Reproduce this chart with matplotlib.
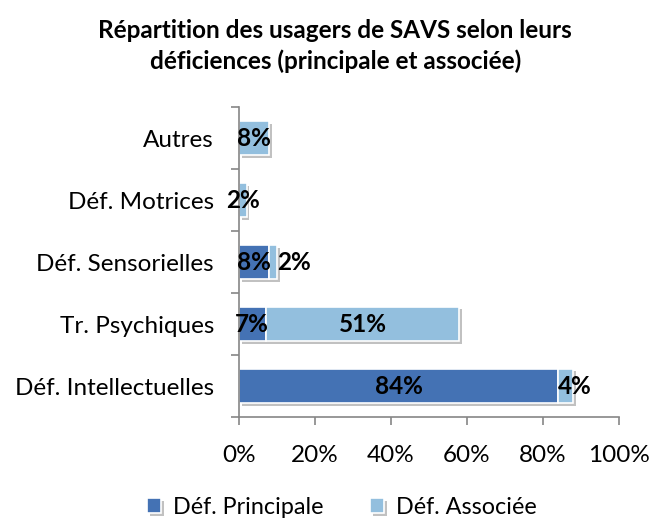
import matplotlib
matplotlib.use("Agg")
import matplotlib.pyplot as plt
import matplotlib.patheffects as pe
import numpy as np

categories = ["Déf. Intellectuelles", "Tr. Psychiques", "Déf. Sensorielles", "Déf. Motrices", "Autres"]
principale = [84, 7, 8, 0, 0]
associee = [4, 51, 2, 2, 8]
series_names = ["Déf. Principale", "Déf. Associée"]
xticks = [0, 20, 40, 60, 80, 100]

plt.rcParams['font.family'] = ['Lato', 'DejaVu Sans']

c_dark = "#4472B4"
c_light = "#93BFDE"
axis_col = "#868686"
fs = 17.5

fig = plt.figure(figsize=(6.51, 5.2), dpi=100)
ax = fig.add_axes([0.367, 0.198, 0.584, 0.596])

y = np.arange(len(categories))
h = 0.56
shadow = [pe.SimplePatchShadow(offset=(2, -2), shadow_rgbFace="#999999", alpha=0.6), pe.Normal()]
b1 = ax.barh(y, principale, height=h, color=c_dark, edgecolor="white", linewidth=1.2,
             label=series_names[0], path_effects=shadow, zorder=2)
b2 = ax.barh(y, associee, left=principale, height=h, color=c_light, edgecolor="white", linewidth=1.2,
             label=series_names[1], path_effects=shadow, zorder=2)

for i in range(len(categories)):
    p, a = principale[i], associee[i]
    if p > 0:
        ax.text(p / 2, y[i], f"{p}%", ha="center", va="center",
                fontsize=fs, fontweight="bold", zorder=5)
    if a > 0:
        if p > 0 and a < 5:
            # small segment after a dark one: label pushed to the right
            x0 = p + a if p < 20 else p
            ax.text(x0, y[i], f"{a}%", ha="left", va="center",
                    fontsize=fs, fontweight="bold", zorder=5)
        else:
            ax.text(p + a / 2, y[i], f"{a}%", ha="center", va="center",
                    fontsize=fs, fontweight="bold", zorder=5)

ax.set_xlim(0, 100)
ax.set_ylim(-0.5, len(categories) - 0.5)
ax.set_xticks(xticks)
ax.set_xticklabels([f"{t}%" for t in xticks], fontsize=fs)
ax.set_yticks(y)
ax.set_yticklabels(categories, fontsize=fs)
ax.tick_params(axis="y", length=0, pad=18)
ax.set_yticks(np.arange(-0.5, len(categories), 1), minor=True)
ax.tick_params(axis="y", which="minor", length=6, color=axis_col, width=1.2)
ax.tick_params(axis="x", length=6, color=axis_col, width=1.2, pad=14)

for s in ["top", "right"]:
    ax.spines[s].set_visible(False)
for s in ["left", "bottom"]:
    ax.spines[s].set_color(axis_col)
    ax.spines[s].set_linewidth(1.2)

fig.text(0.515, 0.912, "Répartition des usagers de SAVS selon leurs\ndéficiences (principale et associée)",
         ha="center", va="center", fontsize=fs, fontweight="bold", linespacing=1.4)

fig.legend(handles=[b1, b2], loc="center", bbox_to_anchor=(0.525, 0.024), ncol=2, frameon=False,
           fontsize=16.8, handlelength=0.6, handleheight=0.6, columnspacing=2.0, handletextpad=0.5)

fig.savefig("out.png", dpi=100)
